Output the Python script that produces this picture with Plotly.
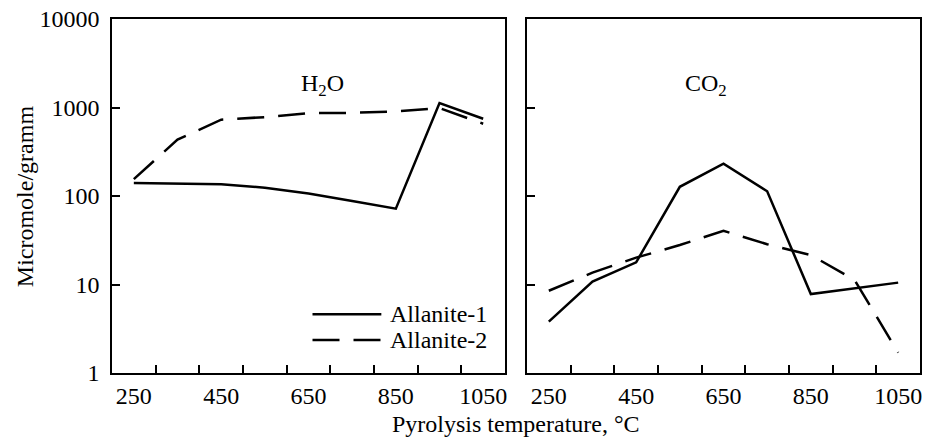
import plotly.graph_objects as go

temps = [250, 350, 450, 550, 650, 750, 850, 950, 1050]
h2o_allanite1 = [140, 139, 136, 124, 107, 88, 72, 1120, 747]
h2o_allanite2 = [155, 433, 728, 779, 864, 870, 902, 984, 656]
co2_allanite1 = [3.8, 10.8, 17.8, 127, 232, 113, 7.8, 9.0, 10.5]
co2_allanite2 = [8.5, 13.6, 20.1, 27.9, 40.4, 28.5, 21.5, 11.3, 1.7]

x_ticks = [250, 450, 650, 850, 1050]
x_minor = [300, 400, 500, 600, 700, 800, 900, 1000]
y_ticks = [1, 10, 100, 1000, 10000]
y_labels = ["1", "10", "100", "1000", "10000"]
series_names = ["Allanite-1", "Allanite-2"]
panel_titles = ["H<sub>2</sub>O", "CO<sub>2</sub>"]

FONT = "Liberation Serif, Times New Roman, serif"
FS = 24
DASH = "27px,14px"
LW = 2.5

fig = go.Figure()
for xa, ya, s1, s2 in [("x", "y", h2o_allanite1, h2o_allanite2),
                       ("x2", "y2", co2_allanite1, co2_allanite2)]:
    fig.add_trace(go.Scatter(x=temps, y=s1, mode="lines", xaxis=xa, yaxis=ya,
                             line=dict(color="black", width=LW), showlegend=False,
                             name=series_names[0]))
    fig.add_trace(go.Scatter(x=temps, y=s2, mode="lines", xaxis=xa, yaxis=ya,
                             line=dict(color="black", width=LW, dash=DASH), showlegend=False,
                             name=series_names[1]))

xcommon = dict(range=[200, 1100], tickvals=x_ticks, ticks="", showgrid=False, zeroline=False,
               showline=True, linecolor="black", linewidth=1.5, mirror=True,
               tickfont=dict(family=FONT, size=FS, color="black"), ticklabelstandoff=0,
               minor=dict(tickvals=x_minor, ticks="inside", ticklen=8, tickcolor="black", tickwidth=1.5))
ycommon = dict(type="log", range=[0, 4], tickvals=y_ticks, ticktext=y_labels, ticks="inside",
               ticklen=8, tickwidth=1.5, tickcolor="black", showgrid=False, zeroline=False,
               showline=True, linecolor="black", linewidth=1.5, mirror=True,
               tickfont=dict(family=FONT, size=FS, color="black"))

fig.update_layout(
    width=928, height=439,
    margin=dict(l=112, r=6, t=18, b=66),
    paper_bgcolor="white", plot_bgcolor="white",
    xaxis=dict(domain=[0, 0.4864], **xcommon),
    xaxis2=dict(domain=[0.5136, 1], anchor="y2", **xcommon),
    yaxis=dict(domain=[0, 1], ticklabelstandoff=6, **ycommon),
    yaxis2=dict(domain=[0, 1], anchor="x2", showticklabels=False, **ycommon),
    showlegend=False,
)

annotations = [
    dict(text=panel_titles[0], x=0.232, y=0.862, xref="paper", yref="paper", showarrow=False,
         font=dict(family=FONT, size=FS, color="black")),
    dict(text=panel_titles[1], x=0.763, y=0.862, xref="paper", yref="paper", showarrow=False,
         font=dict(family=FONT, size=FS, color="black")),
    dict(text="Pyrolysis temperature, °C", x=0.5, y=(373 - 424) / 355, xref="paper", yref="paper",
         showarrow=False, yanchor="middle", font=dict(family=FONT, size=FS, color="black")),
    dict(text="Micromole/gramm", x=(25 - 112) / 810, y=0.5, xref="paper", yref="paper",
         showarrow=False, textangle=-90, xanchor="center", yanchor="middle",
         font=dict(family=FONT, size=FS, color="black")),
]
# legend drawn manually
leg_y = [(373 - 314) / 355, (373 - 340) / 355]
for i, name in enumerate(series_names):
    annotations.append(dict(text=name, x=(389 - 112) / 810, y=leg_y[i], xref="paper", yref="paper",
                            showarrow=False, xanchor="left", yanchor="middle",
                            font=dict(family=FONT, size=FS, color="black")))
    fig.add_shape(type="line", xref="paper", yref="paper", x0=(313 - 112) / 810, x1=(382 - 112) / 810,
                  y0=leg_y[i], y1=leg_y[i],
                  line=dict(color="black", width=LW, dash="solid" if i == 0 else DASH))
fig.update_layout(annotations=annotations)

fig.write_html("out.html", config={"displayModeBar": False},
               post_script="document.body.style.margin='0';document.body.style.overflow='hidden';")
